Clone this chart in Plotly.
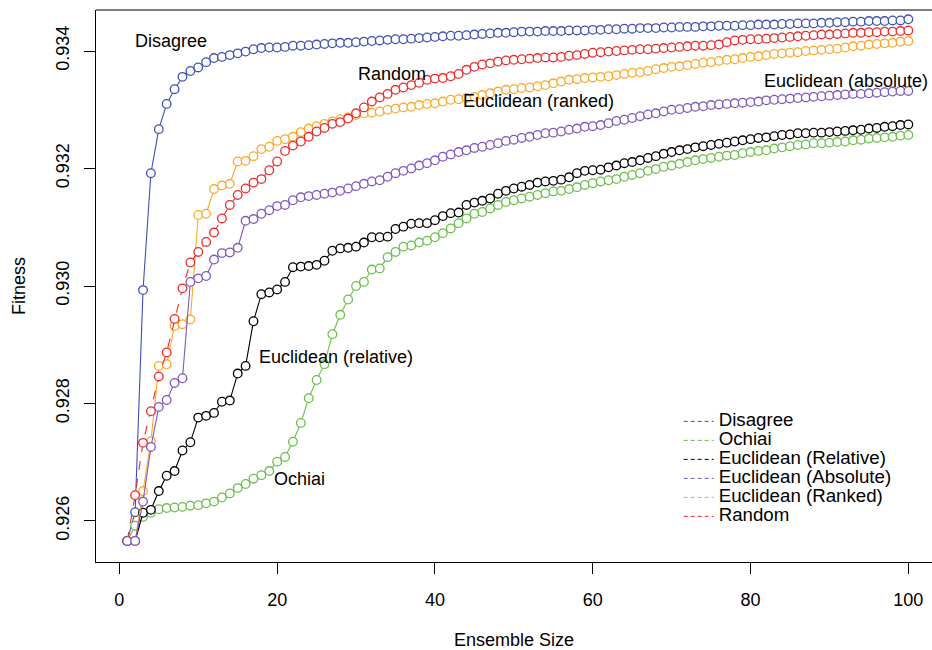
import plotly.graph_objects as go

ensemble_size = list(range(1, 101))

disagree = [
    0.92566, 0.92615, 0.92993, 0.93192, 0.93267, 0.93310, 0.93335, 0.93356, 0.93366, 0.93372,
    0.93381, 0.93388, 0.93390, 0.93393, 0.93396, 0.93399, 0.93403, 0.93405, 0.93406, 0.93406,
    0.93407, 0.93409, 0.93409, 0.93410, 0.93411, 0.93412, 0.93413, 0.93414, 0.93414, 0.93415,
    0.93416, 0.93417, 0.93418, 0.93419, 0.93420, 0.93420, 0.93421, 0.93422, 0.93423, 0.93424,
    0.93425, 0.93426, 0.93426, 0.93427, 0.93428, 0.93429, 0.93430, 0.93431, 0.93431, 0.93432,
    0.93433, 0.93433, 0.93433, 0.93434, 0.93434, 0.93434, 0.93435, 0.93435, 0.93435, 0.93436,
    0.93436, 0.93437, 0.93437, 0.93438, 0.93438, 0.93439, 0.93439, 0.93439, 0.93440, 0.93440,
    0.93441, 0.93441, 0.93441, 0.93442, 0.93442, 0.93443, 0.93443, 0.93443, 0.93444, 0.93444,
    0.93445, 0.93445, 0.93445, 0.93446, 0.93446, 0.93447, 0.93447, 0.93447, 0.93448, 0.93448,
    0.93449, 0.93449, 0.93450, 0.93450, 0.93451, 0.93451, 0.93451, 0.93452, 0.93452, 0.93454,
]

ochiai = [
    0.92566, 0.92592, 0.92607, 0.92614, 0.92620, 0.92622, 0.92623, 0.92624, 0.92626, 0.92627,
    0.92630, 0.92633, 0.92640, 0.92647, 0.92656, 0.92663, 0.92672, 0.92678, 0.92685, 0.92701,
    0.92709, 0.92735, 0.92767, 0.92809, 0.92840, 0.92867, 0.92918, 0.92951, 0.92977, 0.93000,
    0.93007, 0.93028, 0.93030, 0.93049, 0.93058, 0.93067, 0.93069, 0.93074, 0.93077, 0.93083,
    0.93090, 0.93098, 0.93107, 0.93115, 0.93123, 0.93126, 0.93132, 0.93138, 0.93143, 0.93146,
    0.93149, 0.93152, 0.93155, 0.93158, 0.93161, 0.93162, 0.93165, 0.93168, 0.93172, 0.93175,
    0.93178, 0.93180, 0.93182, 0.93186, 0.93189, 0.93192, 0.93196, 0.93199, 0.93203, 0.93205,
    0.93208, 0.93211, 0.93214, 0.93216, 0.93218, 0.93220, 0.93222, 0.93223, 0.93226, 0.93228,
    0.93230, 0.93231, 0.93234, 0.93236, 0.93238, 0.93240, 0.93241, 0.93243, 0.93243, 0.93244,
    0.93245, 0.93246, 0.93248, 0.93249, 0.93251, 0.93252, 0.93253, 0.93254, 0.93256, 0.93257,
]

euclid_relative = [
    0.92566, 0.92566, 0.92614, 0.92619, 0.92651, 0.92677, 0.92685, 0.92720, 0.92734, 0.92776,
    0.92779, 0.92784, 0.92803, 0.92805, 0.92851, 0.92864, 0.92940, 0.92986, 0.92989, 0.92994,
    0.93007, 0.93032, 0.93033, 0.93034, 0.93036, 0.93043, 0.93060, 0.93064, 0.93065, 0.93067,
    0.93074, 0.93083, 0.93083, 0.93084, 0.93097, 0.93101, 0.93106, 0.93107, 0.93107, 0.93112,
    0.93119, 0.93124, 0.93125, 0.93138, 0.93142, 0.93145, 0.93149, 0.93157, 0.93162, 0.93166,
    0.93169, 0.93172, 0.93176, 0.93178, 0.93179, 0.93181, 0.93185, 0.93192, 0.93196, 0.93197,
    0.93198, 0.93202, 0.93205, 0.93209, 0.93211, 0.93214, 0.93218, 0.93221, 0.93225, 0.93228,
    0.93231, 0.93233, 0.93236, 0.93238, 0.93240, 0.93242, 0.93244, 0.93246, 0.93248, 0.93250,
    0.93252, 0.93253, 0.93255, 0.93257, 0.93258, 0.93260, 0.93260, 0.93261, 0.93261, 0.93262,
    0.93263, 0.93264, 0.93265, 0.93266, 0.93268, 0.93269, 0.93271, 0.93272, 0.93274, 0.93275,
]

euclid_absolute = [
    0.92566, 0.92566, 0.92633, 0.92726, 0.92794, 0.92806, 0.92835, 0.92843, 0.93007, 0.93013,
    0.93017, 0.93045, 0.93056, 0.93057, 0.93065, 0.93111, 0.93114, 0.93123, 0.93129, 0.93136,
    0.93138, 0.93146, 0.93151, 0.93153, 0.93155, 0.93157, 0.93159, 0.93162, 0.93166, 0.93170,
    0.93174, 0.93178, 0.93180, 0.93186, 0.93192, 0.93196, 0.93200, 0.93205, 0.93209, 0.93214,
    0.93220, 0.93224, 0.93228, 0.93231, 0.93235, 0.93237, 0.93240, 0.93243, 0.93247, 0.93249,
    0.93252, 0.93254, 0.93257, 0.93260, 0.93261, 0.93263, 0.93266, 0.93268, 0.93271, 0.93272,
    0.93274, 0.93277, 0.93281, 0.93283, 0.93286, 0.93289, 0.93292, 0.93294, 0.93297, 0.93300,
    0.93301, 0.93303, 0.93305, 0.93306, 0.93308, 0.93309, 0.93310, 0.93311, 0.93312, 0.93313,
    0.93314, 0.93316, 0.93317, 0.93318, 0.93319, 0.93320, 0.93321, 0.93322, 0.93323, 0.93324,
    0.93325, 0.93326, 0.93327, 0.93327, 0.93328, 0.93329, 0.93330, 0.93331, 0.93332, 0.93332,
]

euclid_ranked = [
    0.92566, 0.92566, 0.92651, 0.92736, 0.92864, 0.92867, 0.92932, 0.92935, 0.92943, 0.93121,
    0.93123, 0.93165, 0.93171, 0.93174, 0.93212, 0.93213, 0.93221, 0.93233, 0.93237, 0.93247,
    0.93250, 0.93254, 0.93262, 0.93268, 0.93272, 0.93276, 0.93280, 0.93284, 0.93287, 0.93291,
    0.93294, 0.93295, 0.93297, 0.93300, 0.93302, 0.93304, 0.93305, 0.93308, 0.93310, 0.93311,
    0.93314, 0.93317, 0.93318, 0.93320, 0.93322, 0.93325, 0.93328, 0.93331, 0.93334, 0.93335,
    0.93337, 0.93338, 0.93340, 0.93342, 0.93345, 0.93348, 0.93351, 0.93352, 0.93354, 0.93355,
    0.93356, 0.93357, 0.93359, 0.93361, 0.93363, 0.93364, 0.93366, 0.93369, 0.93371, 0.93373,
    0.93374, 0.93376, 0.93378, 0.93380, 0.93381, 0.93383, 0.93385, 0.93386, 0.93388, 0.93390,
    0.93391, 0.93393, 0.93395, 0.93396, 0.93397, 0.93398, 0.93400, 0.93401, 0.93402, 0.93403,
    0.93404, 0.93406, 0.93408, 0.93409, 0.93411, 0.93412, 0.93413, 0.93414, 0.93416, 0.93417,
]

random_sel = [
    0.92566, 0.92644, 0.92733, 0.92787, 0.92846, 0.92887, 0.92944, 0.92996, 0.93040, 0.93058,
    0.93075, 0.93091, 0.93115, 0.93138, 0.93155, 0.93166, 0.93176, 0.93182, 0.93197, 0.93212,
    0.93230, 0.93239, 0.93246, 0.93254, 0.93263, 0.93269, 0.93276, 0.93279, 0.93285, 0.93294,
    0.93304, 0.93314, 0.93321, 0.93327, 0.93334, 0.93338, 0.93342, 0.93346, 0.93351, 0.93353,
    0.93354, 0.93357, 0.93361, 0.93368, 0.93373, 0.93377, 0.93379, 0.93382, 0.93384, 0.93385,
    0.93386, 0.93387, 0.93388, 0.93389, 0.93389, 0.93390, 0.93392, 0.93393, 0.93395, 0.93397,
    0.93398, 0.93399, 0.93400, 0.93401, 0.93402, 0.93403, 0.93403, 0.93404, 0.93405, 0.93406,
    0.93407, 0.93408, 0.93409, 0.93409, 0.93410, 0.93411, 0.93415, 0.93418, 0.93419, 0.93420,
    0.93420, 0.93421, 0.93422, 0.93423, 0.93424, 0.93425, 0.93426, 0.93427, 0.93428, 0.93428,
    0.93429, 0.93430, 0.93431, 0.93431, 0.93432, 0.93432, 0.93433, 0.93433, 0.93434, 0.93435,
]

legend_names = ["Disagree", "Ochiai", "Euclidean (Relative)", "Euclidean (Absolute)",
                "Euclidean (Ranked)", "Random"]
series_values = [disagree, ochiai, euclid_relative, euclid_absolute, euclid_ranked, random_sel]
series_colors = ["#3f51b5", "#6abf4b", "#000000", "#7e57c2", "#ffa726", "#ee2a2a"]
series_dash = ["solid", "solid", "solid", "solid", "solid", "dash"]

label_texts = ["Disagree", "Random", "Euclidean (ranked)", "Euclidean (absolute)",
               "Euclidean (relative)", "Ochiai"]
label_x = [6.6, 34.5, 53.1, 92.1, 27.4, 22.8]
label_y = [0.93417, 0.93361, 0.93315, 0.93349, 0.92879, 0.92671]

x_ticks = [0, 20, 40, 60, 80, 100]
y_ticks = [0.926, 0.928, 0.930, 0.932, 0.934]

FONT = "Liberation Sans, Arial, Helvetica, sans-serif"

fig = go.Figure()

draw_order = [0, 1, 2, 4, 5, 3]
for i in draw_order:
    fig.add_trace(go.Scatter(
        x=ensemble_size, y=series_values[i], mode="lines+markers",
        name=legend_names[i], showlegend=False,
        line=dict(color=series_colors[i], width=1.1, dash=series_dash[i]),
        marker=dict(symbol="circle", size=8.6, color="white",
                    line=dict(color=series_colors[i], width=1.3)),
    ))

for i, name in enumerate(legend_names):
    fig.add_trace(go.Scatter(
        x=[None], y=[None], mode="lines",
        name="<span style='font-size:18.7px'>" + name + "</span>",
        line=dict(color=series_colors[i], width=1, dash="4px,3px"),
        showlegend=True,
    ))

for t, lx, ly in zip(label_texts, label_x, label_y):
    fig.add_annotation(x=lx, y=ly, text=t, showarrow=False,
                       font=dict(family=FONT, size=18, color="black"),
                       xanchor="center", yanchor="middle")

fig.add_shape(type="line", xref="paper", yref="paper", x0=0, x1=1, y0=1, y1=1,
              line=dict(color="black", width=1))

fig.update_layout(
    width=932, height=650,
    margin=dict(l=96, r=0, t=10, b=88),
    paper_bgcolor="white", plot_bgcolor="white",
    font=dict(family=FONT, size=18, color="black"),
    showlegend=True,
    legend=dict(x=0.697, y=0.281, xanchor="left", yanchor="top",
                bgcolor="rgba(0,0,0,0)", borderwidth=0,
                font=dict(family=FONT, size=12, color="black"),
                tracegroupgap=0, itemwidth=30),
    xaxis=dict(range=[-2.96, 103.0], tickvals=x_ticks, ticks="outside", ticklen=11,
               tickwidth=1, tickcolor="black", showline=True, linecolor="black",
               linewidth=1, showgrid=False, zeroline=False, ticklabelstandoff=10,
               tickfont=dict(size=18),
               title=dict(text="Ensemble Size", standoff=25, font=dict(size=18))),
    yaxis=dict(range=[0.925302, 0.934698], tickvals=y_ticks, tickformat=".3f",
               ticks="outside", ticklen=11, tickwidth=1, tickcolor="black",
               showline=True, linecolor="black", linewidth=1, showgrid=False,
               zeroline=False, tickangle=-90, ticklabelstandoff=8,
               tickfont=dict(size=18),
               title=dict(text="Fitness", standoff=22, font=dict(size=18))),
)

fig.write_html("out.html")
